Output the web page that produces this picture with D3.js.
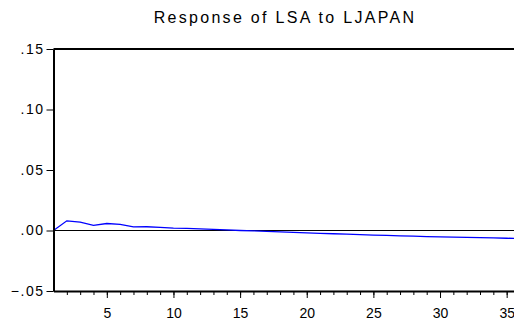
<!DOCTYPE html>
<html>
<head>
<meta charset="utf-8">
<script src="https://cdn.jsdelivr.net/npm/d3@7"></script>
<style>
  body { margin: 0; background: #fff; overflow: hidden; }
  svg { display: block; }
  text { font-family: "Liberation Sans", Arial, sans-serif; fill: #000; }
</style>
</head>
<body>
<svg width="514" height="322"></svg>
<script>
// periods and response values
var periods = d3.range(1, 37)
var response = [0.0000, 0.0080, 0.0070, 0.0042, 0.0058, 0.0050, 0.0030, 0.0031, 0.0025, 0.0020,
                0.0018, 0.0013, 0.0009, 0.0005, 0.0000, -0.0003, -0.0007, -0.0011, -0.0015, -0.0019,
                -0.0023, -0.0027, -0.0030, -0.0034, -0.0038, -0.0041, -0.0044, -0.0047, -0.0051, -0.0053,
                -0.0055, -0.0057, -0.0059, -0.0061, -0.0064, -0.0066]
var yTicks = [-0.05, 0, 0.05, 0.10, 0.15]
var xTicks = [5, 10, 15, 20, 25, 30, 35]
var title = "Response of LSA to LJAPAN"

var svg = d3.select("svg")
var pLeft = 53.5, pRight = 520, pTop = 49, pBottom = 291

var x = d3.scaleLinear().domain([1, 36]).range([pLeft, pRight])
var y = d3.scaleLinear().domain([-0.05, 0.15]).range([pBottom, pTop])

function fmt(v) {
    var s = d3.format(".2f")(v)
    return s.replace("0.", ".")
}

// title (stretched look of the original output)
svg.append("text")
    .attr("x", 285)
    .attr("y", 23)
    .attr("text-anchor", "middle")
    .style("font-size", "16px")
    .style("letter-spacing", "2.3px")
    .text(title)

// zero line
svg.append("line")
    .attr("x1", pLeft).attr("x2", pRight)
    .attr("y1", y(0)).attr("y2", y(0))
    .attr("stroke", "#000").attr("stroke-width", 1)

// response line
var line = d3.line()
    .x(function (d, i) { return x(periods[i]) })
    .y(function (d) { return y(d) })
svg.append("path")
    .attr("d", line(response))
    .attr("fill", "none")
    .attr("stroke", "#0000ff")
    .attr("stroke-width", 1.3)

// frame top
svg.append("line").attr("x1", pLeft).attr("x2", pRight).attr("y1", pTop).attr("y2", pTop)
    .attr("stroke", "#000").attr("stroke-width", 2)

// y axis
var yAxis = d3.axisLeft(y).tickValues(yTicks).tickSize(7).tickSizeOuter(0).tickFormat(fmt)
var gy = svg.append("g").attr("transform", "translate(" + pLeft + ",0)").call(yAxis)
gy.select(".domain").attr("stroke-width", 2)
gy.selectAll("text").style("font-size", "14px").style("letter-spacing", "1.5px").attr("dx", "1")

// x axis: minor ticks every period, labelled major ticks every 5
var xMinor = d3.axisBottom(x).tickValues(periods.slice(1)).tickSize(4).tickSizeOuter(0).tickFormat("")
var gx = svg.append("g").attr("transform", "translate(0," + pBottom + ")").call(xMinor)
gx.select(".domain").attr("stroke-width", 2)
var xMajor = d3.axisBottom(x).tickValues(xTicks).tickSize(7).tickFormat(d3.format("d"))
var gx2 = svg.append("g").attr("transform", "translate(0," + pBottom + ")").call(xMajor)
gx2.select(".domain").remove()
gx2.selectAll("text").style("font-size", "14px").attr("dy", "1.2em")
</script>
</body>
</html>
